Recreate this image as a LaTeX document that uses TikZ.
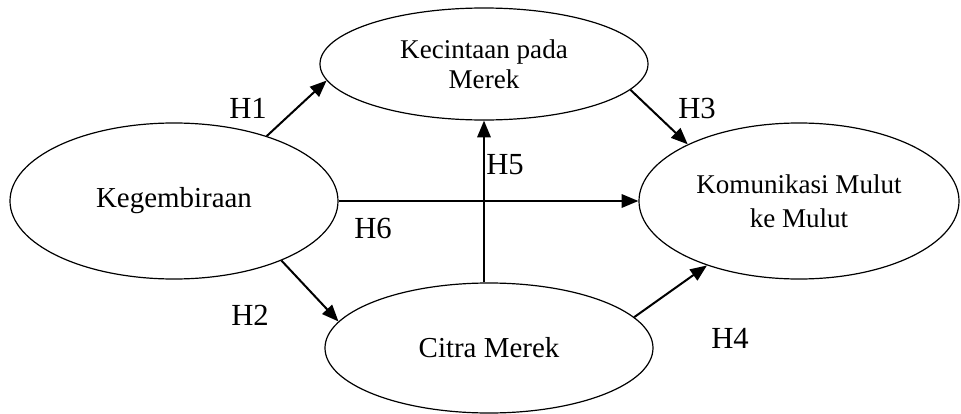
\documentclass[tikz,border=0pt]{standalone}
\usepackage{fontspec}
\setmainfont{Liberation Serif}
\usetikzlibrary{shapes.geometric,arrows.meta}
\begin{document}
\begin{tikzpicture}[x=0.75pt,y=-0.75pt,
  var/.style={draw,ellipse,line width=0.9pt,inner sep=0pt,align=center},
  conn/.style={line width=1.5pt,-{Triangle[length=12.5pt,width=10pt]}},
  hlab/.style={font=\fontsize{23}{27}\selectfont,inner sep=0pt}]
\useasboundingbox (0,0) rectangle (961,414);
\node[var,minimum width=328*0.75pt,minimum height=156*0.75pt,font=\fontsize{21.7}{25}\selectfont] (keg) at (174,201) {Kegembiraan};
\node[var,minimum width=328*0.75pt,minimum height=112*0.75pt,font=\fontsize{20.3}{22.5}\selectfont] (kec) at (484,64) {Kecintaan pada\\Merek};
\node[var,minimum width=320*0.75pt,minimum height=156*0.75pt,font=\fontsize{20.3}{25.5}\selectfont] (kom) at (799,201) {Komunikasi Mulut\\ke Mulut};
\node[var,minimum width=328*0.75pt,minimum height=130*0.75pt,font=\fontsize{21.7}{25}\selectfont] (cit) at (489,348) {Citra Merek};
\draw[conn] (keg.35.7) -- (kec.186);
\draw[conn] (keg.-29.5) -- (cit.170.6);
\draw[conn] (keg.east) -- (kom.west);
\draw[conn] (kec.south |- cit.north) -- (kec.south);
\draw[conn] (kec.-10.2) -- (kom.153.7);
\draw[conn] (cit.12.6) -- (kom.215.7);
\node[hlab] (h1) at (248,108) {H1};
\node[hlab] (h2) at (250,315) {H2};
\node[hlab] (h6) at (373,228) {H6};
\node[hlab] (h5) at (505,165) {H5};
\node[hlab] (h3) at (697,108) {H3};
\node[hlab] (h4) at (730,338) {H4};
\end{tikzpicture}
\end{document}
